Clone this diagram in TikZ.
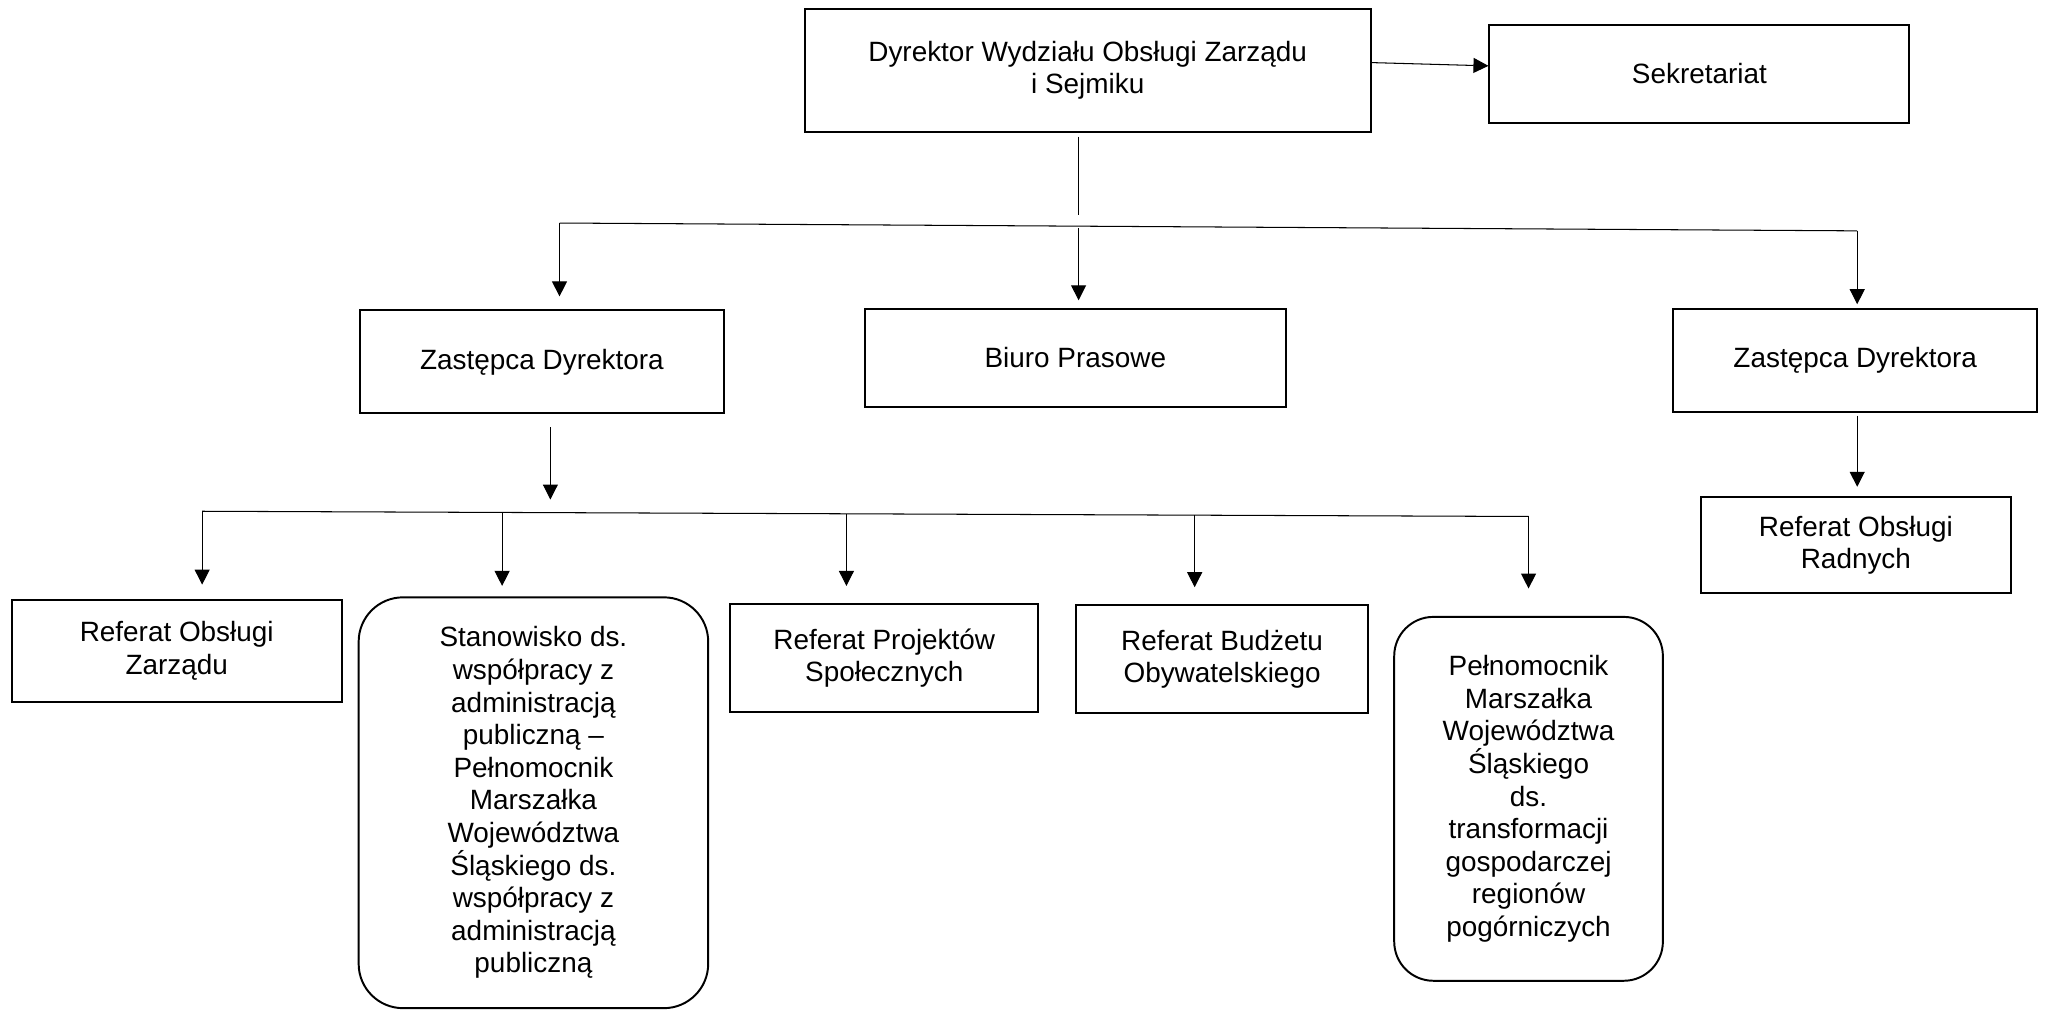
\documentclass[tikz,border=0pt]{standalone}
\usepackage{fontspec}
\setmainfont{Liberation Sans}
\usetikzlibrary{arrows.meta, calc}
\begin{document}
\begin{tikzpicture}[x=1pt, y=-1pt,
  box/.style={draw, line width=1.5pt, align=center, inner sep=0pt, font=\boxfont},
  roundbox/.style={box, rounded corners=34pt},
  link/.style={line width=0.8pt},
  arr/.style={link, -{Triangle[length=11.5pt, width=11.5pt]}}]
\def\boxfont{\fontsize{21.4}{25}\selectfont}
\useasboundingbox (0,0) rectangle (1568,774.4);

% FIRST ROW
\node[box, minimum width=434, minimum height=94] (dyr) at (834,54) {Dyrektor Wydziału Obsługi Zarządu\\i Sejmiku};
\node[box, minimum width=322, minimum height=75] (sek) at (1303,56.5) {Sekretariat};
\draw[arr] ([yshift=6pt]dyr.east) -- ([yshift=6pt]sek.west);

% SECOND ROW
\node[box, minimum width=279, minimum height=79] (zastL) at (415.5,277.5) {Zastępca Dyrektora};
\node[box, minimum width=323, minimum height=75] (biuro) at (824.5,274.5) {Biuro Prasowe};
\node[box, minimum width=279, minimum height=79] (zastR) at (1422.5,276.5) {Zastępca Dyrektora};
\node[box, minimum width=238, minimum height=74] (radnych) at (1423,418) {Referat Obsługi\\Radnych};

\coordinate (stem) at (827,165);
\coordinate (busAl) at (429,171);
\coordinate (busAm) at (827,175);
\coordinate (busAr) at (1424,177);
\draw[link, shorten <=3pt] (dyr.south -| stem) -- (stem);
\draw[link] (busAl) -- (busAr);
\draw[arr, shorten >=10pt] (busAl) -- (busAl |- zastL.north);
\draw[arr, shorten >=6pt] (busAm) -- (busAm |- biuro.north);
\draw[arr, shorten >=3pt] (busAr) -- (busAr |- zastR.north);
\draw[arr, shorten <=2pt, shorten >=7pt] ([xshift=1.5pt]zastR.south) -- ([xshift=1.5pt]zastR.south |- radnych.north);

% THIRD ROW
\node[box, minimum width=253, minimum height=78] (refZ) at (135.5,499) {Referat Obsługi\\Zarządu};
\node[roundbox, minimum width=268, minimum height=315] (stan) at (409,615.5) {Stanowisko ds.\\współpracy z\\administracją\\publiczną –\\Pełnomocnik\\Marszałka\\Województwa\\Śląskiego ds.\\współpracy z\\administracją\\publiczną};
\node[box, minimum width=236, minimum height=83] (proj) at (678,504.5) {Referat Projektów\\Społecznych};
\node[box, minimum width=224, minimum height=83] (budz) at (937,505.5) {Referat Budżetu\\Obywatelskiego};
\node[roundbox, rounded corners=30pt, minimum width=206, minimum height=279] (peln) at (1172,612.5) {Pełnomocnik\\Marszałka\\Województwa\\Śląskiego\\ds.\\transformacji\\gospodarczej\\regionów\\pogórniczych};

\coordinate (busBtop) at (422,383);
\coordinate (busBl) at (155,392);
\coordinate (busBr) at (1172,396);
\draw[arr, shorten <=10pt] (zastL.south -| busBtop) -- (busBtop);
\draw[link] (busBl) -- (busBr);
\foreach \x/\n/\g in {155/refZ/11pt, 385/stan/8pt, 649/proj/13pt, 916/budz/13pt, 1172/peln/21pt} {
  \coordinate (t) at ($(busBl)!{(\x-155)/1017}!(busBr)$);
  \draw[arr, shorten >=\g] (t) -- (t |- \n.north);
}
\end{tikzpicture}
\end{document}
